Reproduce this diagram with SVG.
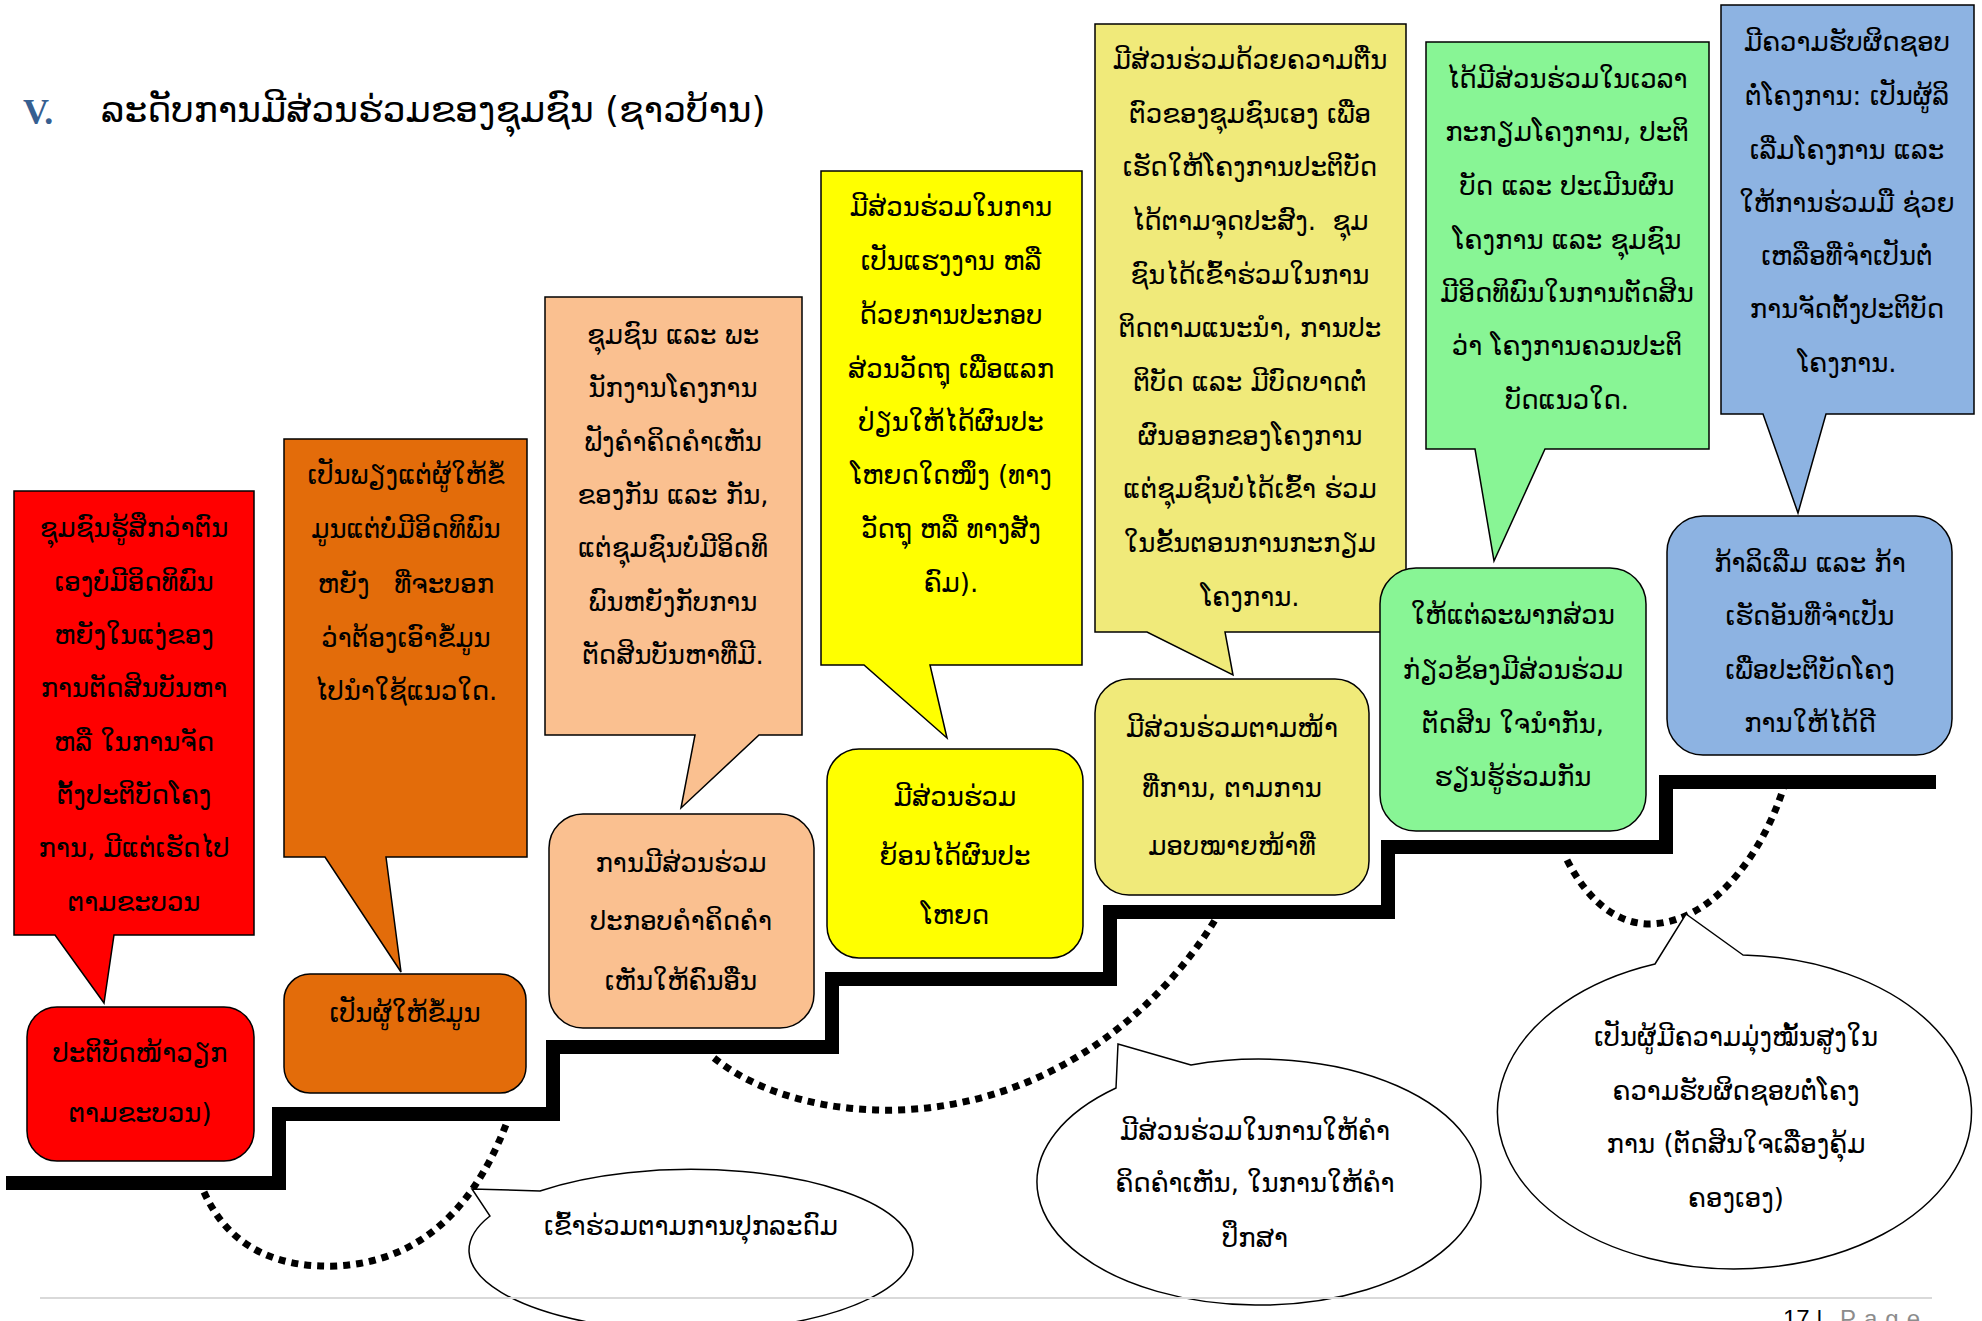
<svg xmlns="http://www.w3.org/2000/svg" width="1982" height="1321" viewBox="0 0 1982 1321">
<style>
.t{font-family:"DejaVu Sans","Noto Sans",sans-serif;font-size:26px;text-anchor:middle;fill:#000;white-space:pre}
.box{stroke:#000;stroke-width:1.5}
.stair{fill:none;stroke:#000;stroke-width:14;stroke-linejoin:miter}
.dot{fill:none;stroke:#000;stroke-width:7;stroke-dasharray:7 6}
.ell{fill:#fff;stroke:#000;stroke-width:1.5}
.ft{font-family:"Liberation Sans",sans-serif;font-size:24px}
</style>
<rect width="1982" height="1321" fill="#fff"/>
<g id="title">
<text x="23" y="124" style="font-family:'Liberation Serif',serif;font-weight:bold;font-size:36px;fill:#365f91">V.</text>
<text x="101" y="122" style="font-family:'DejaVu Sans','Noto Sans',sans-serif;font-size:36px;fill:#000">ລະດັບການມີສ່ວນຮ່ວມຂອງຊຸມຊົນ (ຊາວບ້ານ)</text>
</g>
<g id="connectors">
<polyline class="stair" points="6,1183 279,1183 279,1114 553,1114 553,1047 832,1047 832,979 1110,979 1110,912 1388,912 1388,847 1666,847 1666,782 1936,782"/>
<path class="dot" d="M204,1192 C230,1250 280,1268 337,1266 C410,1262 470,1220 507,1122"/>
<path class="dot" d="M714,1058 C760,1095 830,1112 898,1110 C1050,1105 1160,1010 1215,920"/>
<path class="dot" d="M1567,860 C1590,905 1620,924 1650,924 C1720,922 1770,840 1787,776"/>
</g>
<g id="c1">
<path class="box" fill="#ff0000" d="M14,491 H254 V935 H114 L104,1003 L55,935 H14 Z"/>
<text class="t" x="134" y="537">ຊຸມຊົນຮູ້ສຶກວ່າຕົນ</text>
<text class="t" x="134" y="591">ເອງບໍ່ມີອິດທິພົນ</text>
<text class="t" x="134" y="644">ຫຍັງໃນແງ່ຂອງ</text>
<text class="t" x="134" y="697">ການຕັດສິນບັນຫາ</text>
<text class="t" x="134" y="751">ຫລື ໃນການຈັດ</text>
<text class="t" x="134" y="804">ຕັ້ງປະຕິບັດໂຄງ</text>
<text class="t" x="134" y="857">ການ, ມີແຕ່ເຮັດໄປ</text>
<text class="t" x="134" y="911">ຕາມຂະບວນ</text>
</g>
<g id="c2">
<path class="box" fill="#e36c0a" d="M284,439 H527 V857 H386 L401,972 L325,857 H284 Z"/>
<text class="t" x="406" y="484">ເປັນພຽງແຕ່ຜູ້ໃຫ້ຂໍ້</text>
<text class="t" x="406" y="538">ມູນແຕ່ບໍ່ມີອິດທິພົນ</text>
<text class="t" x="406" y="593">ຫຍັງ   ທີ່ຈະບອກ</text>
<text class="t" x="406" y="647">ວ່າຕ້ອງເອົາຂໍ້ມູນ</text>
<text class="t" x="406" y="700">ໄປນຳໃຊ້ແນວໃດ.</text>
</g>
<g id="c3">
<path class="box" fill="#fac090" d="M545,297 H802 V735 H759 L681,808 L695,735 H545 Z"/>
<text class="t" x="673" y="344">ຊຸມຊົນ ແລະ ພະ</text>
<text class="t" x="673" y="397">ນັກງານໂຄງການ</text>
<text class="t" x="673" y="451">ຟັງຄຳຄິດຄຳເຫັນ</text>
<text class="t" x="673" y="504">ຂອງກັນ ແລະ ກັນ,</text>
<text class="t" x="673" y="557">ແຕ່ຊຸມຊົນບໍ່ມີອິດທິ</text>
<text class="t" x="673" y="611">ພົນຫຍັງກັບການ</text>
<text class="t" x="673" y="664">ຕັດສິນບັນຫາທີ່ມີ.</text>
</g>
<g id="c4">
<path class="box" fill="#ffff00" d="M821,171 H1082 V665 H930 L947,738 L864,665 H821 Z"/>
<text class="t" x="951" y="216">ມີສ່ວນຮ່ວມໃນການ</text>
<text class="t" x="951" y="270">ເປັນແຮງງານ ຫລື</text>
<text class="t" x="951" y="324">ດ້ວຍການປະກອບ</text>
<text class="t" x="951" y="378">ສ່ວນວັດຖຸ ເພື່ອແລກ</text>
<text class="t" x="951" y="431">ປ່ຽນໃຫ້ໄດ້ຜົນປະ</text>
<text class="t" x="951" y="484">ໂຫຍດໃດໜຶ່ງ (ທາງ</text>
<text class="t" x="951" y="538">ວັດຖຸ ຫລື ທາງສັງ</text>
<text class="t" x="951" y="592">ຄົມ).</text>
</g>
<g id="c5">
<path class="box" fill="#f0ea7a" d="M1095,24 H1406 V632 H1225 L1233,675 L1147,632 H1095 Z"/>
<text class="t" x="1250" y="69">ມີສ່ວນຮ່ວມດ້ວຍຄວາມຕື່ນ</text>
<text class="t" x="1250" y="123">ຕົວຂອງຊຸມຊົນເອງ ເພື່ອ</text>
<text class="t" x="1250" y="176">ເຮັດໃຫ້ໂຄງການປະຕິບັດ</text>
<text class="t" x="1250" y="230">ໄດ້ຕາມຈຸດປະສົງ.  ຊຸມ</text>
<text class="t" x="1250" y="284">ຊົນໄດ້ເຂົ້າຮ່ວມໃນການ</text>
<text class="t" x="1250" y="337">ຕິດຕາມແນະນຳ, ການປະ</text>
<text class="t" x="1250" y="391">ຕິບັດ ແລະ ມີບົດບາດຕໍ່</text>
<text class="t" x="1250" y="445">ຜົນອອກຂອງໂຄງການ</text>
<text class="t" x="1250" y="498">ແຕ່ຊຸມຊົນບໍ່ໄດ້ເຂົ້າ ຮ່ວມ</text>
<text class="t" x="1250" y="552">ໃນຂັ້ນຕອນການກະກຽມ</text>
<text class="t" x="1250" y="606">ໂຄງການ.</text>
</g>
<g id="c6">
<path class="box" fill="#88f595" d="M1426,42 H1709 V449 H1545 L1494,561 L1475,449 H1426 Z"/>
<text class="t" x="1567" y="88">ໄດ້ມີສ່ວນຮ່ວມໃນເວລາ</text>
<text class="t" x="1567" y="141">ກະກຽມໂຄງການ, ປະຕິ</text>
<text class="t" x="1567" y="195">ບັດ ແລະ ປະເມີນຜົນ</text>
<text class="t" x="1567" y="249">ໂຄງການ ແລະ ຊຸມຊົນ</text>
<text class="t" x="1567" y="302">ມີອິດທິພົນໃນການຕັດສິນ</text>
<text class="t" x="1567" y="355">ວ່າ ໂຄງການຄວນປະຕິ</text>
<text class="t" x="1567" y="409">ບັດແນວໃດ.</text>
</g>
<g id="c7">
<path class="box" fill="#8db3e2" d="M1721,5 H1974 V414 H1826 L1798,513 L1763,414 H1721 Z"/>
<text class="t" x="1847" y="51">ມີຄວາມຮັບຜິດຊອບ</text>
<text class="t" x="1847" y="105">ຕໍ່ໂຄງການ: ເປັນຜູ້ລິ</text>
<text class="t" x="1847" y="159">ເລີ່ມໂຄງການ ແລະ</text>
<text class="t" x="1847" y="212">ໃຫ້ການຮ່ວມມື ຊ່ວຍ</text>
<text class="t" x="1847" y="265">ເຫລືອທີ່ຈຳເປັນຕໍ່</text>
<text class="t" x="1847" y="318">ການຈັດຕັ້ງປະຕິບັດ</text>
<text class="t" x="1847" y="372">ໂຄງການ.</text>
</g>
<g id="n1">
<rect class="box" fill="#ff0000" x="27" y="1007" width="227" height="154" rx="30"/>
<text class="t" x="140" y="1062">ປະຕິບັດໜ້າວຽກ</text>
<text class="t" x="140" y="1122">ຕາມຂະບວນ)</text>
</g>
<g id="n2">
<rect class="box" fill="#e36c0a" x="284" y="974" width="242" height="119" rx="26"/>
<text class="t" x="405" y="1022">ເປັນຜູ້ໃຫ້ຂໍ້ມູນ</text>
</g>
<g id="n3">
<rect class="box" fill="#fac090" x="549" y="814" width="265" height="214" rx="34"/>
<text class="t" x="681" y="872">ການມີສ່ວນຮ່ວມ</text>
<text class="t" x="681" y="930">ປະກອບຄຳຄິດຄຳ</text>
<text class="t" x="681" y="990">ເຫັນໃຫ້ຄົນອື່ນ</text>
</g>
<g id="n4">
<rect class="box" fill="#ffff00" x="827" y="749" width="256" height="209" rx="32"/>
<text class="t" x="955" y="806">ມີສ່ວນຮ່ວມ</text>
<text class="t" x="955" y="865">ຍ້ອນໄດ້ຜົນປະ</text>
<text class="t" x="955" y="924">ໂຫຍດ</text>
</g>
<g id="n5">
<rect class="box" fill="#f0ea7a" x="1095" y="679" width="274" height="216" rx="34"/>
<text class="t" x="1232" y="737">ມີສ່ວນຮ່ວມຕາມໜ້າ</text>
<text class="t" x="1232" y="797">ທີ່ການ, ຕາມການ</text>
<text class="t" x="1232" y="855">ມອບໝາຍໜ້າທີ່</text>
</g>
<g id="n6">
<rect class="box" fill="#88f595" x="1380" y="568" width="266" height="263" rx="36"/>
<text class="t" x="1513" y="624">ໃຫ້ແຕ່ລະພາກສ່ວນ</text>
<text class="t" x="1513" y="679">ກ່ຽວຂ້ອງມີສ່ວນຮ່ວມ</text>
<text class="t" x="1513" y="733">ຕັດສິນ ໃຈນຳກັນ,</text>
<text class="t" x="1513" y="786">ຮຽນຮູ້ຮ່ວມກັນ</text>
</g>
<g id="n7">
<rect class="box" fill="#8db3e2" x="1667" y="516" width="285" height="239" rx="36"/>
<text class="t" x="1810" y="572">ກ້າລິເລີ່ມ ແລະ ກ້າ</text>
<text class="t" x="1810" y="625">ເຮັດອັນທີ່ຈຳເປັນ</text>
<text class="t" x="1810" y="679">ເພື່ອປະຕິບັດໂຄງ</text>
<text class="t" x="1810" y="732">ການໃຫ້ໄດ້ດີ</text>
</g>
<g id="e1">
<path class="ell" d="M540,1191 L472,1189 L490,1216 A222 81 0 1 0 540,1191 Z"/>
<text class="t" x="691" y="1235">ເຂົ້າຮ່ວມຕາມການປຸກລະດົມ</text>
</g>
<g id="e2">
<path class="ell" d="M1191,1065 L1118,1044 L1116,1088 A222 123 0 1 0 1191,1065 Z"/>
<text class="t" x="1255" y="1140">ມີສ່ວນຮ່ວມໃນການໃຫ້ຄຳ</text>
<text class="t" x="1255" y="1192">ຄິດຄຳເຫັນ, ໃນການໃຫ້ຄຳ</text>
<text class="t" x="1255" y="1247">ປຶກສາ</text>
</g>
<g id="e3">
<path class="ell" d="M1743,955 L1686,914 L1655,964 A237 157 0 1 0 1743,955 Z"/>
<text class="t" x="1736" y="1046">ເປັນຜູ້ມີຄວາມມຸ່ງໝັ້ນສູງໃນ</text>
<text class="t" x="1736" y="1100">ຄວາມຮັບຜິດຊອບຕໍ່ໂຄງ</text>
<text class="t" x="1736" y="1153">ການ (ຕັດສິນໃຈເລື່ອງຄຸ້ມ</text>
<text class="t" x="1736" y="1207">ຄອງເອງ)</text>
</g>
<g id="footer">
<line x1="40" y1="1298" x2="1932" y2="1298" stroke="#d9d9d9" stroke-width="2"/>
<text class="ft" x="1783" y="1327" fill="#000">17 |</text>
<text class="ft" x="1840" y="1327" fill="#8c8c8c" letter-spacing="8">Page</text>
</g>
</svg>
